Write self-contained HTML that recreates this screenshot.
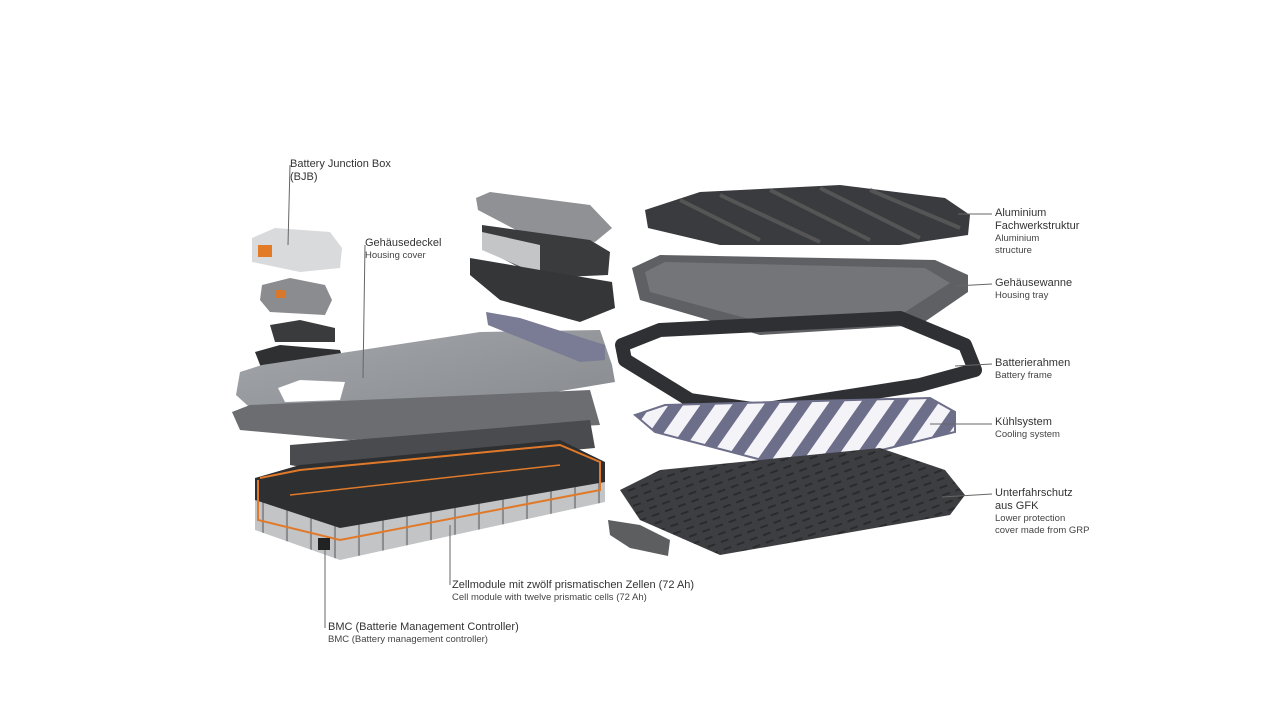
<!DOCTYPE html>
<html><head><meta charset="utf-8"><style>
html,body{margin:0;padding:0;background:#fff;}
svg{display:block}
text{font-family:"Liberation Sans","DejaVu Sans",sans-serif;fill:#333;}
.a{font-size:11px}.b{font-size:9.5px;fill:#444}
</style></head><body>
<svg width="1280" height="728" viewBox="0 0 1280 728">
<defs>
<linearGradient id="cov" x1="0" y1="0" x2="1" y2="1"><stop offset="0" stop-color="#a3a6aa"/><stop offset="1" stop-color="#85888c"/></linearGradient>
<pattern id="stripe" width="26" height="26" patternUnits="userSpaceOnUse" patternTransform="rotate(35)"><rect width="26" height="26" fill="#f4f4f8"/><rect width="12" height="26" fill="#6d6e8a"/></pattern>
<pattern id="dots" width="14" height="8" patternUnits="userSpaceOnUse" patternTransform="rotate(-20)"><rect width="14" height="8" fill="#3d3e41"/><rect x="2" y="3" width="8" height="2" fill="#2a2b2d"/></pattern>
<pattern id="cells" width="24" height="40" patternUnits="userSpaceOnUse" patternTransform="skewY(-12)"><rect width="24" height="40" fill="#c3c4c6"/><rect x="22" width="2" height="40" fill="#8a8b8e"/></pattern>
</defs>
<!-- left stack -->
<polygon points="252,238 275,228 330,232 342,248 340,268 300,272 252,262" fill="#d9dadc"/>
<rect x="258" y="245" width="14" height="12" fill="#e27a26"/>
<polygon points="262,285 290,278 325,285 332,300 325,315 270,312 260,300" fill="#8a8c8f"/>
<rect x="275" y="290" width="10" height="8" fill="#d9772b"/>
<polygon points="270,325 300,320 335,328 335,342 275,342" fill="#3a3b3d"/>
<polygon points="255,352 280,345 340,350 345,365 330,372 262,370" fill="#2f3032"/>
<polygon points="240,372 262,365 480,332 600,330 612,365 615,382 340,428 258,415 236,395" fill="url(#cov)"/>
<polygon points="278,388 300,380 345,382 340,400 285,402" fill="#fff"/>
<polygon points="232,412 250,405 590,390 600,425 350,440 240,430" fill="#6b6d70"/>
<polygon points="290,445 450,432 590,420 595,448 330,472 290,465" fill="#4a4b4e"/>
<polygon points="255,478 300,465 560,440 605,462 605,500 340,545 255,520" fill="#2e2f31"/>
<polygon points="255,500 340,528 605,482 605,502 340,560 255,530" fill="url(#cells)"/>
<polyline points="260,478 300,470 560,445 600,462 600,490 340,540 258,520 258,480" fill="none" stroke="#e07a2a" stroke-width="2"/>
<polyline points="290,495 560,465 M300,480 540,455" fill="none" stroke="#e07a2a" stroke-width="1.5"/>
<rect x="318" y="538" width="12" height="12" fill="#222"/>
<!-- middle top -->
<polygon points="476,198 490,192 590,205 612,228 595,242 520,232 478,210" fill="#8f9195"/>
<polygon points="482,225 590,240 610,252 608,275 540,278 482,248" fill="#3a3b3d"/>
<polygon points="482,232 540,245 540,275 482,250" fill="#c4c5c7"/>
<polygon points="470,258 540,270 612,282 615,308 580,322 500,300 470,275" fill="#353638"/>
<polygon points="486,312 520,318 605,345 605,360 580,362 488,325" fill="#7a7b94"/>
<polygon points="608,520 640,525 670,540 668,556 630,548 610,535" fill="#5d5e60"/>
<!-- right -->
<polygon points="645,210 700,192 840,185 945,198 970,215 968,235 900,245 720,245 648,228" fill="#3a3b3e"/>
<g stroke="#555" stroke-width="4"><line x1="680" y1="200" x2="760" y2="240"/><line x1="720" y1="195" x2="820" y2="242"/><line x1="770" y1="190" x2="870" y2="240"/><line x1="820" y1="188" x2="920" y2="238"/><line x1="870" y1="190" x2="960" y2="228"/></g>
<polygon points="632,268 660,255 935,260 968,275 968,292 920,325 760,335 640,300" fill="#5e6064"/>
<polygon points="645,272 665,262 925,268 950,283 905,312 760,322 650,292" fill="#737579"/>
<polygon points="622,345 660,330 700,328 900,318 965,345 975,370 920,385 760,410 690,400 625,360" fill="none" stroke="#2f3033" stroke-width="14" stroke-linejoin="round"/>
<polygon points="635,415 665,405 930,398 955,412 955,432 800,470 655,432" fill="url(#stripe)" stroke="#6d6e8a" stroke-width="2"/>
<polygon points="620,490 660,470 880,448 945,470 965,495 950,515 720,555 640,520" fill="url(#dots)"/>
<!-- leader lines -->
<g stroke="#666" stroke-width="1" fill="none">
<polyline points="290,165 288,245"/><polyline points="365,245 363,378"/>
<polyline points="325,550 325,628"/><polyline points="450,525 450,585"/>
<polyline points="958,214 992,214"/><polyline points="955,286 992,284"/>
<polyline points="955,366 992,364"/><polyline points="930,424 992,424"/>
<polyline points="942,497 992,494"/>
</g>
<!-- labels -->
<text class="a" x="290" y="167">Battery Junction Box</text><text class="a" x="290" y="180">(BJB)</text>
<text class="a" x="365" y="246">Gehäusedeckel</text><text class="b" x="365" y="258">Housing cover</text>
<text class="a" x="995" y="216">Aluminium</text><text class="a" x="995" y="229">Fachwerkstruktur</text>
<text class="b" x="995" y="241">Aluminium</text><text class="b" x="995" y="253">structure</text>
<text class="a" x="995" y="286">Gehäusewanne</text><text class="b" x="995" y="298">Housing tray</text>
<text class="a" x="995" y="366">Batterierahmen</text><text class="b" x="995" y="378">Battery frame</text>
<text class="a" x="995" y="425">Kühlsystem</text><text class="b" x="995" y="437">Cooling system</text>
<text class="a" x="995" y="496">Unterfahrschutz</text><text class="a" x="995" y="509">aus GFK</text>
<text class="b" x="995" y="521">Lower protection</text><text class="b" x="995" y="533">cover made from GRP</text>
<text class="a" x="452" y="588">Zellmodule mit zwölf prismatischen Zellen (72 Ah)</text>
<text class="b" x="452" y="600">Cell module with twelve prismatic cells (72 Ah)</text>
<text class="a" x="328" y="630">BMC (Batterie Management Controller)</text>
<text class="b" x="328" y="642">BMC (Battery management controller)</text>
</svg>
</body></html>
